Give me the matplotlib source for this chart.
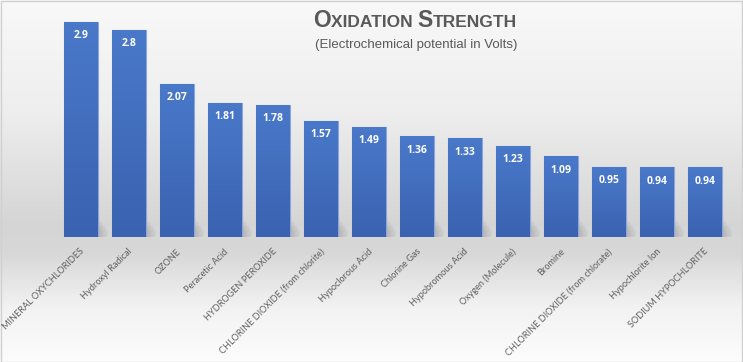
import numpy as np
import matplotlib
matplotlib.use("Agg")
import matplotlib.pyplot as plt
from matplotlib.colors import LinearSegmentedColormap
from matplotlib.patches import Rectangle

categories = ["MINERAL OXYCHLORIDES", "Hydroxyl Radical", "OZONE", "Peracetic Acid",
              "HYDROGEN PEROXIDE", "CHLORINE DIOXIDE (from chlorite)", "Hypoclorous Acid",
              "Chlorine Gas", "Hypobromous Acid", "Oxygen (Molecule)", "Bromine",
              "CHLORINE DIOXIDE (from chlorate)", "Hypochlorite Ion", "SODIUM HYPOCHLORITE"]
values = [2.9, 2.8, 2.07, 1.81, 1.78, 1.57, 1.49, 1.36, 1.33, 1.23, 1.09, 0.95, 0.94, 0.94]
value_labels = ["2.9", "2.8", "2.07", "1.81", "1.78", "1.57", "1.49", "1.36", "1.33",
                "1.23", "1.09", "0.95", "0.94", "0.94"]

W, H = 743, 362
fig = plt.figure(figsize=(W / 100, H / 100), dpi=100)

# background gradient
bg = fig.add_axes([0, 0, 1, 1], zorder=0)
bg.set_axis_off()
ys = np.linspace(0, 1, 400)  # 0 = top, 1 = bottom
stops_y = [0.0, 0.3, 0.62, 0.70, 0.85, 1.0]
stops_c = [0.975, 0.935, 0.835, 0.845, 0.95, 0.99]
col = np.interp(ys, stops_y, stops_c)
img = np.repeat(col[:, None], 10, axis=1)
bg.imshow(np.dstack([img, img, img]), aspect="auto", extent=[0, 1, 0, 1], origin="upper")
bg.set_xlim(0, 1)
bg.set_ylim(0, 1)
bg.add_patch(Rectangle((0.001, 0.001), 0.998, 0.997, fill=False, edgecolor="#d0d0d0",
                       linewidth=1.0, transform=bg.transAxes))

ax_bottom = (H - 237) / H
ax = fig.add_axes([0, ax_bottom, 1, 1 - ax_bottom], zorder=1)
ax.patch.set_alpha(0)
n = len(values)
x = np.arange(n)
ax.set_xlim(-81 / 48, (W - 81) / 48)
ax.set_ylim(0, 237 / 74.1)
ax.set_axis_off()

bw = 34 / 48
# soft ground shadows
for k in range(6):
    for xi, v in zip(x, values):
        ax.add_patch(Rectangle((xi - bw / 2 + 0.04 + k * 0.035, 0), bw, 0.25 - k * 0.03,
                               facecolor="black", alpha=0.025, edgecolor="none", zorder=1))

bars = ax.bar(x, values, width=bw, color="#4472c4", edgecolor="#8aa6dc", linewidth=0.8, zorder=3)
cmap = LinearSegmentedColormap.from_list("bar", ["#4a79ca", "#3a62b0"])
grad = np.linspace(0, 1, 100)[:, None]
for b in bars:
    x0, y0 = b.get_x(), b.get_y()
    im = ax.imshow(grad, cmap=cmap, aspect="auto", origin="upper",
                   extent=[x0, x0 + b.get_width(), y0, y0 + b.get_height()], zorder=3.5)
    im.set_clip_path(b)
ax.set_xlim(-81 / 48, (W - 81) / 48)
ax.set_ylim(0, 237 / 74.1)

for xi, v, lab in zip(x, values, value_labels):
    ax.annotate(lab, (xi, v), xytext=(0, -10), textcoords="offset points", ha="center",
                va="center", color="white", fontsize=7.5, fontweight="bold",
                family="Open Sans", zorder=5)

for xi, lab in zip(x, categories):
    ax.annotate(lab, (xi, 0), xytext=(1.5, -9.5), textcoords="offset points", ha="right",
                va="center", rotation=45, rotation_mode="anchor", color="#5f5f5f",
                fontsize=6.6, family="Lato", annotation_clip=False, zorder=5)

# Title in small caps
title_parts = [("O", 16.5), ("XIDATION ", 12.5), ("S", 16.5), ("TRENGTH", 12.5)]
fam = ["Liberation Sans", "DejaVu Sans"]
fig.canvas.draw()
r = fig.canvas.get_renderer()
texts = []
cur = 0.0
for s, fs in title_parts:
    t = fig.text(0, 1 - 27 / H, s, fontsize=fs, fontweight="bold", color="#595959",
                 family=fam, ha="left", va="baseline")
    bb = t.get_window_extent(renderer=r)
    texts.append((t, cur))
    cur += bb.width
total = cur
start = 415 - total / 2
for t, off in texts:
    t.set_x((start + off) / W)

fig.text(416 / W, 1 - 45 / H, "(Electrochemical potential in Volts)", fontsize=9.5,
         color="#595959", family=fam, ha="center", va="center")

fig.savefig("out.png", dpi=100)
